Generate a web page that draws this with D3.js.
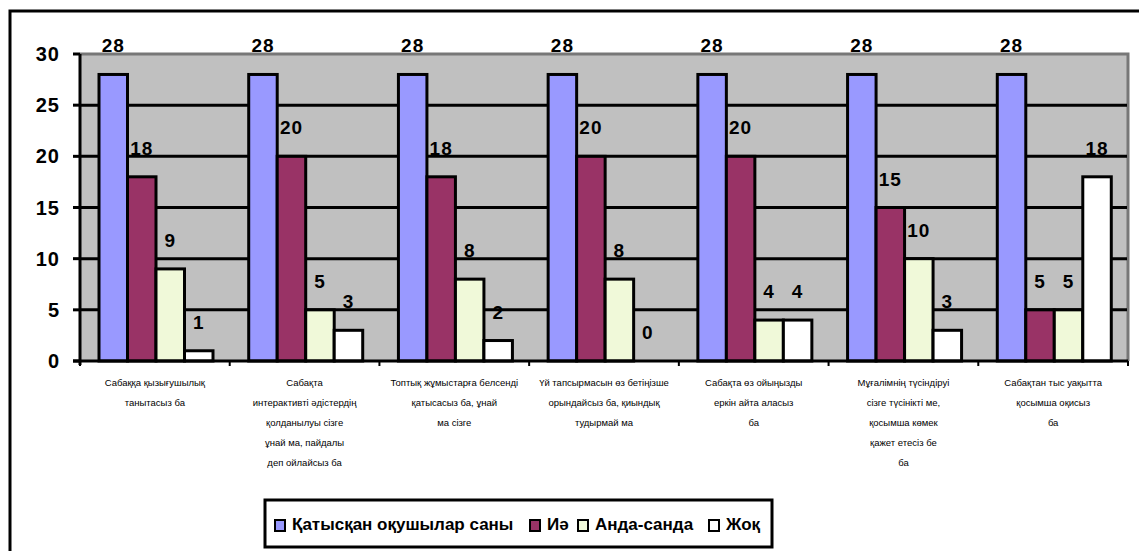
<!DOCTYPE html>
<html>
<head>
<meta charset="utf-8">
<script src="https://cdn.jsdelivr.net/npm/d3@7"></script>
<style>
  body { margin: 0; background: #fff; }
  svg { display: block; font-family: "Liberation Sans", Arial, sans-serif; }
</style>
</head>
<body>
<div id="chart"></div>
<script>
// данные диаграммы
const categories = [
  "Сабаққа қызығушылық|танытасыз ба",
  "Сабақта|интерактивті әдістердің|қолданылуы сізге|ұнай ма, пайдалы|деп ойлайсыз ба",
  "Топтық жұмыстарға белсенді|қатысасыз ба, ұнай|ма сізге",
  "Үй тапсырмасын өз бетіңізше|орындайсыз ба, қиындық|тудырмай ма",
  "Сабақта өз ойыңызды|еркін айта аласыз|ба",
  "Мұғалімнің түсіндіруі|сізге түсінікті ме,|қосымша көмек|қажет етесіз бе|ба",
  "Сабақтан тыс уақытта|қосымша оқисыз|ба"
];
const seriesNames = ["Қатысқан оқушылар саны", "Иә", "Анда-санда", "Жоқ"];
const participants = [28, 28, 28, 28, 28, 28, 28];
const yes = [18, 20, 18, 20, 20, 15, 5];
const sometimes = [9, 5, 8, 8, 4, 10, 5];
const no = [1, 3, 2, 0, 4, 3, 18];
const yTicks = [0, 5, 10, 15, 20, 25, 30];

const seriesValues = [participants, yes, sometimes, no];
const colors = ["#9999ff", "#993366", "#f0f9d9", "#ffffff"];

const width = 1139, height = 551;
const svg = d3.select("#chart").append("svg")
    .attr("width", width)
    .attr("height", height);

// внешняя рамка
svg.append("rect")
    .attr("x", 10).attr("y", 11)
    .attr("width", width + 20).attr("height", height + 20)
    .attr("fill", "none").attr("stroke", "#000").attr("stroke-width", 3);

const plot = { left: 80, right: 1128, top: 54, bottom: 361 };

const y = d3.scaleLinear().domain([0, 30]).range([plot.bottom, plot.top]);
const x0 = d3.scaleBand().domain(d3.range(categories.length)).range([plot.left, plot.right]);
const x1 = d3.scaleBand().domain(d3.range(seriesNames.length)).range([19, 133]);

// фон области построения
svg.append("rect")
    .attr("x", plot.left).attr("y", plot.top)
    .attr("width", plot.right - plot.left).attr("height", plot.bottom - plot.top)
    .attr("fill", "#c0c0c0");
svg.append("path")
    .attr("d", `M${plot.left},${plot.top}H${plot.right}V${plot.bottom}`)
    .attr("fill", "none").attr("stroke", "#777").attr("stroke-width", 3);

// линии сетки
svg.append("g").selectAll("line")
    .data(yTicks.filter(t => t > 0 && t < 30))
    .enter().append("line")
    .attr("x1", plot.left).attr("x2", plot.right - 1)
    .attr("y1", d => y(d)).attr("y2", d => y(d))
    .attr("stroke", "#000").attr("stroke-width", 3);

// столбцы
const flat = [];
categories.forEach((c, i) => {
  seriesValues.forEach((vals, s) => flat.push({ cat: i, s: s, v: vals[i] }));
});

svg.append("g").selectAll("rect")
    .data(flat.filter(d => d.v > 0))
    .enter().append("rect")
    .attr("x", d => x0(d.cat) + x1(d.s))
    .attr("y", d => y(d.v))
    .attr("width", x1.bandwidth())
    .attr("height", d => y(0) - y(d.v))
    .attr("fill", d => colors[d.s])
    .attr("stroke", "#000").attr("stroke-width", 3);

// подписи значений
svg.append("g").selectAll("text")
    .data(flat)
    .enter().append("text")
    .attr("x", d => x0(d.cat) + x1(d.s) + x1.bandwidth() / 2)
    .attr("y", d => y(d.v) - 22)
    .attr("text-anchor", "middle")
    .style("font-size", "19px")
    .style("font-weight", "bold")
    .style("letter-spacing", "1px")
    .text(d => d.v);

// оси
svg.append("line")
    .attr("x1", plot.left).attr("x2", plot.left)
    .attr("y1", plot.top).attr("y2", plot.bottom + 4)
    .attr("stroke", "#000").attr("stroke-width", 3);
svg.append("line")
    .attr("x1", plot.left - 7).attr("x2", plot.right)
    .attr("y1", plot.bottom).attr("y2", plot.bottom)
    .attr("stroke", "#000").attr("stroke-width", 3);

const yAxis = svg.append("g");
yAxis.selectAll("line")
    .data(yTicks).enter().append("line")
    .attr("x1", plot.left - 7).attr("x2", plot.left)
    .attr("y1", d => y(d)).attr("y2", d => y(d))
    .attr("stroke", "#000").attr("stroke-width", 3);
yAxis.selectAll("text")
    .data(yTicks).enter().append("text")
    .attr("x", 60)
    .attr("y", d => y(d) + 7)
    .attr("text-anchor", "end")
    .style("font-size", "20px")
    .style("font-weight", "bold")
    .style("letter-spacing", "1px")
    .text(d => d);

// деления между группами
svg.append("g").selectAll("line")
    .data(d3.range(categories.length + 1))
    .enter().append("line")
    .attr("x1", d => plot.left + d * x0.bandwidth())
    .attr("x2", d => plot.left + d * x0.bandwidth())
    .attr("y1", plot.bottom).attr("y2", plot.bottom + 5)
    .attr("stroke", "#000").attr("stroke-width", 2);

// подписи категорий
const catG = svg.append("g");
categories.forEach((c, i) => {
  const t = catG.append("text")
      .attr("x", x0(i) + x0.bandwidth() / 2)
      .attr("y", 386)
      .attr("text-anchor", "middle")
      .style("font-size", "9.5px");
  c.split("|").forEach((line, k) => {
    t.append("tspan")
        .attr("x", x0(i) + x0.bandwidth() / 2)
        .attr("y", 386 + k * 20)
        .text(line);
  });
});

// легенда
const legend = svg.append("g");
legend.append("rect")
    .attr("x", 265).attr("y", 500)
    .attr("width", 507).attr("height", 47)
    .attr("fill", "#fff").attr("stroke", "#000").attr("stroke-width", 3);
const legendX = [275, 530, 578, 709];
seriesNames.forEach((name, i) => {
  legend.append("rect")
      .attr("x", legendX[i]).attr("y", 520)
      .attr("width", 10).attr("height", 11)
      .attr("fill", colors[i])
      .attr("stroke", "#000").attr("stroke-width", 2);
  legend.append("text")
      .attr("x", legendX[i] + 17).attr("y", 530)
      .style("font-size", "17px")
      .style("font-weight", "bold")
      .text(name);
});
</script>
</body>
</html>
